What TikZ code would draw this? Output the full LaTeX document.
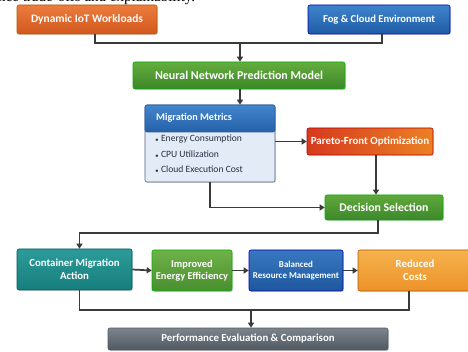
\documentclass[tikz,border=0pt]{standalone}
\usepackage{fontspec}
\setmainfont{Carlito}
\newfontfamily\serifpart{Liberation Serif}
\usetikzlibrary{arrows.meta,shadows,calc}
\definecolor{lineC}{HTML}{3A3A3A}
\newcommand{\fsz}[1]{\bfseries\fontsize{#1}{#1}\selectfont}
\tikzset{
  box/.style={rounded corners=2pt, draw=#1!70!black, line width=0.6pt, text=white,
    font=\fsz{10.8}, align=center, inner sep=1pt,
    drop shadow={shadow xshift=1pt, shadow yshift=-1pt, opacity=0.25}},
  conn/.style={draw=lineC, line width=1.7pt},
  arr/.style={conn, -{Triangle[length=5pt,width=6pt]}},
}
\begin{document}
\begin{tikzpicture}[x=1pt,y=-1pt]
\useasboundingbox (0,0) rectangle (468,352);
\fill[white] (0,0) rectangle (468,352);
% cut-off line of text at the top
\node[anchor=base west, inner sep=0pt, font=\serifpart\fontsize{15}{15}\selectfont] (toptext) at (-2,2) {nce trade-offs and explainability.};
% top row
\node[box=orange, top color={rgb,255:red,236;green,124;blue,62}, bottom color={rgb,255:red,210;green,88;blue,30},
  minimum width=140, minimum height=29, font=\fsz{11.4}] (dyn) at (87,19.5) {Dynamic IoT Workloads};
\node[box=blue, top color={rgb,255:red,62;green,132;blue,204}, bottom color={rgb,255:red,32;green,92;blue,166},
  minimum width=142, minimum height=29, font=\fsz{10.6}] (fog) at (379,19.5) {Fog \& Cloud Environment};
\node[box=green, top color={rgb,255:red,100;green,172;blue,62}, bottom color={rgb,255:red,60;green,136;blue,40},
  minimum width=212, minimum height=27, font=\fsz{12}] (nn) at (239,75.5) {Neural Network Prediction Model};
% migration metrics
\node[rounded corners=2pt, draw={rgb,255:red,80;green,100;blue,130}, line width=0.6pt, fill={rgb,255:red,226;green,235;blue,246},
  minimum width=130, minimum height=77, inner sep=0pt,
  drop shadow={shadow xshift=1pt, shadow yshift=-1pt, opacity=0.25}] (mmb) at (210,143.5) {};
\node[rounded corners=2pt, draw={rgb,255:red,40;green,90;blue,160}, line width=0.6pt,
  top color={rgb,255:red,66;green,134;blue,206}, bottom color={rgb,255:red,38;green,96;blue,168},
  minimum width=130, minimum height=27, inner sep=0pt] (mmh) at (210,118.5) {};
\node[anchor=west, text=white, font=\fsz{10.2}, inner sep=0pt] (mmt) at (156,117.5) {Migration Metrics};
\node[anchor=north west, align=left, text={rgb,255:red,40;green,48;blue,70}, font=\fontsize{9.6}{15.2}\selectfont, inner sep=0pt] (mml) at (155,135)
  {$\scriptscriptstyle\bullet$\ Energy Consumption\\ $\scriptscriptstyle\bullet$\ CPU Utilization\\ $\scriptscriptstyle\bullet$\ Cloud Execution Cost};
% pareto and decision
\node[box=red, left color={rgb,255:red,214;green,58;blue,30}, right color={rgb,255:red,236;green,128;blue,36},
  minimum width=126, minimum height=27, font=\fsz{10.9}] (par) at (370,141.5) {Pareto-Front Optimization};
\node[box=green, top color={rgb,255:red,96;green,168;blue,60}, bottom color={rgb,255:red,60;green,136;blue,42},
  minimum width=118, minimum height=25, font=\fsz{11.8}] (dec) at (384,207.5) {Decision Selection};
% bottom row
\node[box=teal, top color={rgb,255:red,44;green,156;blue,154}, bottom color={rgb,255:red,22;green,126;blue,124},
  minimum width=115, minimum height=41, font=\fsz{10.8}] (cont) at (74.5,269.5) {Container Migration\\[2pt]Action};
\node[box=green, top color={rgb,255:red,112;green,178;blue,72}, bottom color={rgb,255:red,72;green,142;blue,46},
  minimum width=80, minimum height=41, font=\fsz{10.4}] (imp) at (192,270.5) {Improved\\[2pt]Energy Efficiency};
\node[box=blue, top color={rgb,255:red,56;green,120;blue,192}, bottom color={rgb,255:red,30;green,88;blue,158},
  minimum width=94, minimum height=41, font=\fsz{9}] (bal) at (296,270.5) {Balanced\\[2pt]Resource Management};
\node[box=orange, top color={rgb,255:red,246;green,178;blue,78}, bottom color={rgb,255:red,236;green,146;blue,40},
  minimum width=114, minimum height=41, font=\fsz{10.8}] (red) at (415,270.5) {Reduced\\[2pt]Costs};
\node[box=gray, top color={rgb,255:red,124;green,132;blue,142}, bottom color={rgb,255:red,80;green,88;blue,98},
  minimum width=280, minimum height=22, font=\fsz{10.8}] (perf) at (248,339) {Performance Evaluation \& Comparison};
% connectors
\coordinate (j1) at (240,43);
\coordinate (j2) at (251,310);
\draw[conn] ($(dyn.south)+(8,0)$) |- (j1) -| ($(fog.south)+(3,0)$);
\draw[arr] (j1) -- (nn.north -| j1);
\draw[arr] (nn.south -| j1) -- (mmh.north -| j1);
\draw[arr] (mmb.east |- par.west) -- (par.west);
\draw[arr] ($(par.south)+(6,0)$) -- ($(par.south |- dec.north)+(6,0)$);
\draw[arr] (mmb.south) |- (dec.west);
\draw[arr] ($(dec.south)+(-6,0)$) -- ++(0,13) -| ($(cont.north)+(5,0)$);
\draw[arr] (cont.east) -- (imp.west);
\draw[arr] (imp.east) -- (bal.west);
\draw[arr] (bal.east) -- (red.west);
\draw[conn] ($(cont.south)+(5,0)$) |- (j2) -| ($(red.south)+(-6,0)$);
\draw[arr] (j2) -- (perf.north -| j2);
\end{tikzpicture}
\end{document}
